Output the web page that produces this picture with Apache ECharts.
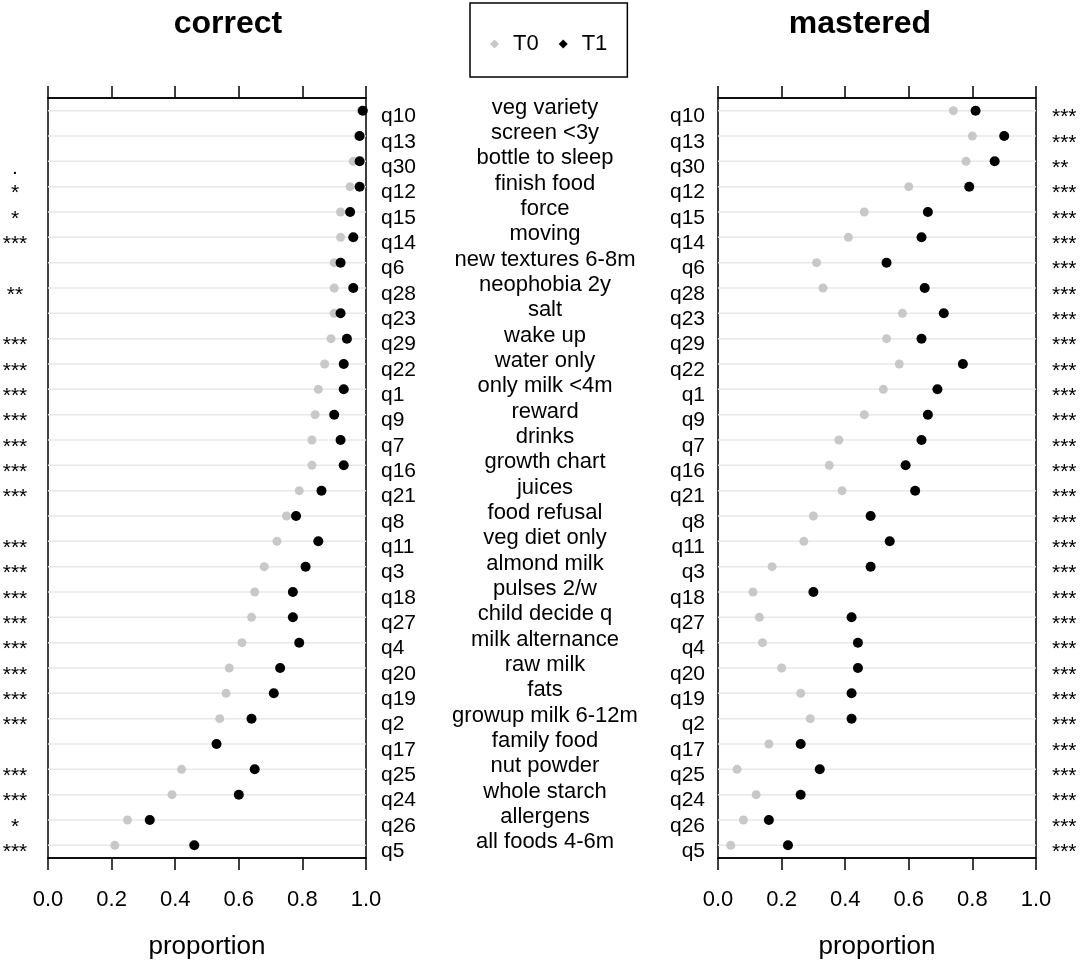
<!DOCTYPE html>
<html lang="en">

<head>
  <meta charset="UTF-8">
  <title>correct / mastered</title>
  <script src="https://cdn.jsdelivr.net/npm/echarts@6/dist/echarts.min.js"></script>
  <style>
    body { margin: 0; background: #fff; }
  </style>
</head>

<body>
  <div id="main" style="width: 1084px;height:962px;"></div>
  <script>
    // questions, top to bottom
    var questions = ['q10', 'q13', 'q30', 'q12', 'q15', 'q14', 'q6', 'q28', 'q23', 'q29', 'q22', 'q1', 'q9', 'q7', 'q16',
      'q21', 'q8', 'q11', 'q3', 'q18', 'q27', 'q4', 'q20', 'q19', 'q2', 'q17', 'q25', 'q24', 'q26', 'q5'];
    var topics = ['veg variety', 'screen <3y', 'bottle to sleep', 'finish food', 'force', 'moving', 'new textures 6-8m',
      'neophobia 2y', 'salt', 'wake up', 'water only', 'only milk <4m', 'reward', 'drinks', 'growth chart', 'juices',
      'food refusal', 'veg diet only', 'almond milk', 'pulses 2/w', 'child decide q', 'milk alternance', 'raw milk',
      'fats', 'growup milk 6-12m', 'family food', 'nut powder', 'whole starch', 'allergens', 'all foods 4-6m'];

    // proportion correct
    var correctT0 = [0.985, 0.975, 0.96, 0.95, 0.92, 0.92, 0.90, 0.90, 0.90, 0.89, 0.87, 0.85, 0.84, 0.83, 0.83,
      0.79, 0.75, 0.72, 0.68, 0.65, 0.64, 0.61, 0.57, 0.56, 0.54, 0.53, 0.42, 0.39, 0.25, 0.21];
    var correctT1 = [0.99, 0.98, 0.98, 0.98, 0.95, 0.96, 0.92, 0.96, 0.92, 0.94, 0.93, 0.93, 0.90, 0.92, 0.93,
      0.86, 0.78, 0.85, 0.81, 0.77, 0.77, 0.79, 0.73, 0.71, 0.64, 0.53, 0.65, 0.60, 0.32, 0.46];
    var correctSig = ['', '', '.', '*', '*', '***', '', '**', '', '***', '***', '***', '***', '***', '***',
      '***', '', '***', '***', '***', '***', '***', '***', '***', '***', '', '***', '***', '*', '***'];

    // proportion mastered
    var masteredT0 = [0.74, 0.80, 0.78, 0.60, 0.46, 0.41, 0.31, 0.33, 0.58, 0.53, 0.57, 0.52, 0.46, 0.38, 0.35,
      0.39, 0.30, 0.27, 0.17, 0.11, 0.13, 0.14, 0.20, 0.26, 0.29, 0.16, 0.06, 0.12, 0.08, 0.04];
    var masteredT1 = [0.81, 0.90, 0.87, 0.79, 0.66, 0.64, 0.53, 0.65, 0.71, 0.64, 0.77, 0.69, 0.66, 0.64, 0.59,
      0.62, 0.48, 0.54, 0.48, 0.30, 0.42, 0.44, 0.44, 0.42, 0.42, 0.26, 0.32, 0.26, 0.16, 0.22];
    var masteredSig = ['***', '***', '**', '***', '***', '***', '***', '***', '***', '***', '***', '***', '***', '***', '***',
      '***', '***', '***', '***', '***', '***', '***', '***', '***', '***', '***', '***', '***', '***', '***'];

    var xTicks = [0, 0.2, 0.4, 0.6, 0.8, 1.0];

    var FONT = "'Liberation Sans', Arial, sans-serif";
    var myChart = echarts.init(document.getElementById('main'));

    function pts(vals) {
      return vals.map(function (v, i) { return [v, questions[i]]; });
    }

    function bottomAxis(g) {
      return {
        type: 'value', gridIndex: g, position: 'bottom', min: 0, max: 1, interval: 0.2,
        axisLine: { show: true, lineStyle: { color: '#000', width: 1.5 } },
        axisTick: { show: true, length: 12, lineStyle: { color: '#000', width: 1.5 } },
        axisLabel: {
          margin: 31, fontSize: 22, color: '#000', fontFamily: FONT,
          formatter: function (v) { return xTicks.indexOf(v) >= 0 ? v.toFixed(1) : ''; }
        },
        splitLine: { show: false },
        name: 'proportion', nameLocation: 'middle', nameGap: 76,
        nameTextStyle: { fontSize: 26, color: '#000', fontFamily: FONT }
      };
    }

    function topAxis(g) {
      return {
        type: 'value', gridIndex: g, position: 'top', min: 0, max: 1, interval: 0.2,
        axisLine: { show: true, lineStyle: { color: '#000', width: 1.5 } },
        axisTick: { show: true, length: 12, lineStyle: { color: '#000', width: 1.5 } },
        axisLabel: { show: false },
        splitLine: { show: false }
      };
    }

    // vAlign/lh shift the text a little off the row, like the original
    function catAxis(g, pos, margin, align, vAlign, lh, size, fmt) {
      return {
        type: 'category', gridIndex: g, position: pos, inverse: true, data: questions,
        axisLine: { show: false }, axisTick: { show: false }, splitLine: { show: false },
        axisLabel: {
          interval: 0, margin: margin, align: align, verticalAlign: vAlign, lineHeight: lh,
          fontSize: size, color: '#000', fontFamily: FONT, formatter: fmt
        }
      };
    }

    // thin transparent bar whose background is the light row line
    function rows(vals, xi, yi) {
      return {
        type: 'bar', xAxisIndex: xi, yAxisIndex: yi, data: pts(vals),
        barWidth: 1.5, silent: true, itemStyle: { color: 'transparent' },
        showBackground: true, backgroundStyle: { color: '#e8e8e8' }, z: 1
      };
    }

    function dots(name, vals, xi, yi, color, size) {
      return {
        name: name, type: 'scatter', xAxisIndex: xi, yAxisIndex: yi, data: pts(vals),
        symbol: 'circle', symbolSize: size, itemStyle: { color: color, opacity: 1 }, z: 3
      };
    }

    const option = {
      animation: false,
      textStyle: { fontFamily: FONT },
      title: [
        { text: 'correct', left: 228, top: 8, textAlign: 'center', padding: 0,
          textStyle: { fontSize: 32, fontWeight: 'bold', color: '#000', fontFamily: FONT } },
        { text: 'mastered', left: 860, top: 8, textAlign: 'center', padding: 0,
          textStyle: { fontSize: 32, fontWeight: 'bold', color: '#000', fontFamily: FONT } }
      ],
      legend: {
        data: [
          { name: 'T0', icon: 'diamond', itemStyle: { color: '#c8c8c8' } },
          { name: 'T1', icon: 'diamond', itemStyle: { color: '#000' } }
        ],
        left: 470, top: 3, orient: 'horizontal',
        itemWidth: 9, itemHeight: 9, itemGap: 20,
        padding: [30, 20, 22, 20],
        borderColor: '#000', borderWidth: 1.5, borderRadius: 0,
        textStyle: { fontSize: 22, color: '#000', fontFamily: FONT, padding: [0, 0, 0, 9] }
      },
      grid: [
        { left: 48, width: 318, top: 98, height: 760, show: true, borderColor: '#000', borderWidth: 1.5,
          backgroundColor: 'transparent', outerBoundsMode: 'none', containLabel: false },
        { left: 718, width: 318, top: 98, height: 760, show: true, borderColor: '#000', borderWidth: 1.5,
          backgroundColor: 'transparent', outerBoundsMode: 'none', containLabel: false },
        { left: 540, width: 10, top: 98, height: 760, show: false, outerBoundsMode: 'none', containLabel: false }
      ],
      xAxis: [
        bottomAxis(0), topAxis(0),
        bottomAxis(1), topAxis(1),
        { type: 'value', gridIndex: 2, min: 0, max: 1, show: false }
      ],
      yAxis: [
        catAxis(0, 'right', 15, 'left', 'top', 12, 21),
        catAxis(0, 'left', 33, 'center', 'top', 14, 21, function (v, i) { return correctSig[i]; }),
        catAxis(1, 'left', 13, 'right', 'top', 12, 21),
        catAxis(1, 'right', 16, 'left', 'top', 14, 21, function (v, i) { return masteredSig[i]; }),
        catAxis(2, 'left', -5, 'center', 'bottom', 6, 22, function (v, i) { return topics[i]; })
      ],
      series: [
        rows(correctT1, 0, 0),
        rows(masteredT1, 2, 2),
        dots('T0', correctT0, 0, 0, '#c8c8c8', 9),
        dots('T1', correctT1, 0, 0, '#000', 10),
        dots('T0', masteredT0, 2, 2, '#c8c8c8', 9),
        dots('T1', masteredT1, 2, 2, '#000', 10)
      ]
    };

    myChart.setOption(option);
  </script>
</body>

</html>
